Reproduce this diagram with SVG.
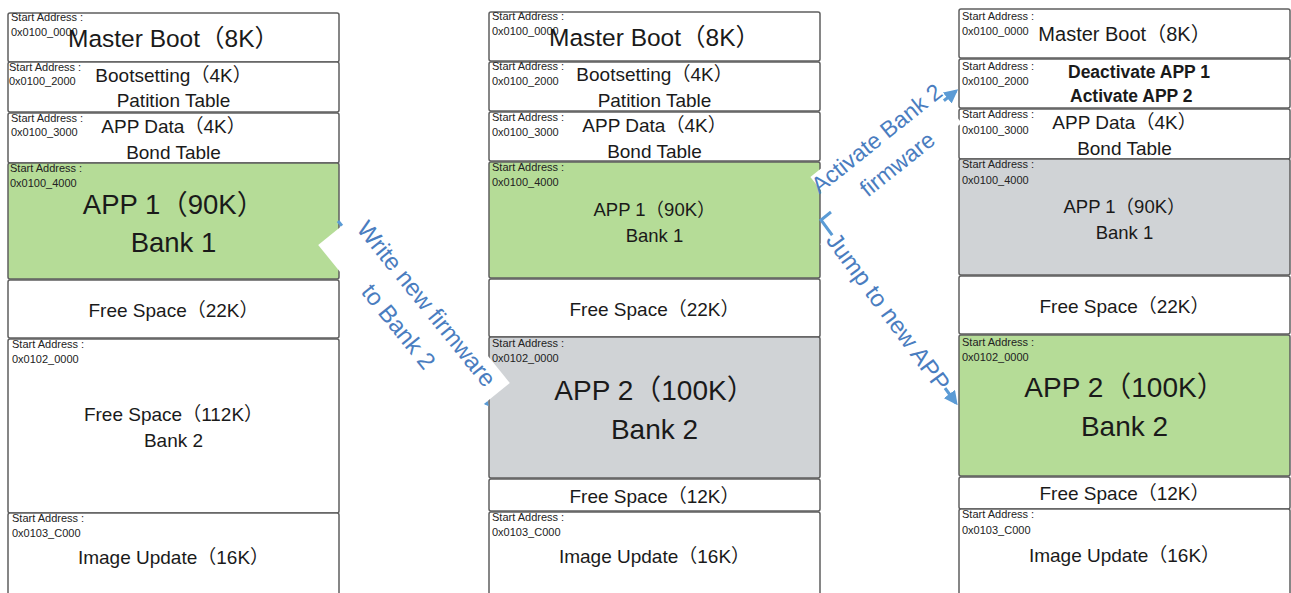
<svg xmlns="http://www.w3.org/2000/svg" width="1291" height="593" viewBox="0 0 1291 593">
<defs>
<style>
.blk{fill:#fff;stroke:#5f5f5f;stroke-width:1.5}
.green{fill:#b5dc97}
.gray{fill:#d0d3d6}
.sm{font-family:"Liberation Sans",Arial,sans-serif;font-size:11px;fill:#222}
.t{font-family:"Liberation Sans","Noto Sans CJK SC",sans-serif;fill:#1a1a1a;text-anchor:middle}
.s17{font-size:19px}
.s23{font-size:24.5px}
.s25{font-size:27.5px}
.s27{font-size:28px}
.m18{font-size:18.5px}
.b{font-weight:bold;font-size:17.5px;text-anchor:start}
.conn{fill:none;stroke:#5b9bd5;stroke-width:3}
.lbl{font-family:"Liberation Sans",Arial,sans-serif;font-size:24px;fill:#4a7dbf;text-anchor:middle}
.box{fill:#fff}
</style>
<marker id="ah" viewBox="0 0 10 10" refX="8" refY="5" markerWidth="14" markerHeight="14" markerUnits="userSpaceOnUse" orient="auto">
<path d="M0,0 L10,5 L0,10 z" fill="#5b9bd5"/>
</marker>
</defs>

<!-- Left column -->
<g id="L-master"><rect class="blk" x="8" y="13" width="331" height="49" rx="2"/>
<text class="sm" x="11" y="21">Start Address :</text><text class="sm" x="11" y="36">0x0100_0000</text>
<text class="t s23" x="173.5" y="47">Master Boot（8K）</text></g>
<g id="L-boot"><rect class="blk" x="8" y="62" width="331" height="50" rx="2"/>
<text class="sm" x="9" y="71">Start Address :</text><text class="sm" x="9" y="85">0x0100_2000</text>
<text class="t s17" x="173.5" y="82">Bootsetting（4K）</text><text class="t s17" x="173.5" y="107">Patition Table</text></g>
<g id="L-appdata"><rect class="blk" x="8" y="113" width="331" height="50" rx="2"/>
<text class="sm" x="11" y="122">Start Address :</text><text class="sm" x="11" y="136">0x0100_3000</text>
<text class="t s17" x="173.5" y="133">APP Data（4K）</text><text class="t s17" x="173.5" y="159">Bond Table</text></g>
<g id="L-app1"><rect class="blk green" x="8" y="163" width="331" height="116" rx="2"/>
<text class="sm" x="10" y="172">Start Address :</text><text class="sm" x="10" y="187">0x0100_4000</text>
<text class="t s25" x="173.5" y="214">APP 1（90K）</text><text class="t s25" x="173.5" y="252">Bank 1</text></g>
<g id="L-free22"><rect class="blk" x="8" y="280" width="331" height="58" rx="2"/>
<text class="t s17" x="173.5" y="317">Free Space（22K）</text></g>
<g id="L-free112"><rect class="blk" x="8" y="339" width="331" height="174" rx="2"/>
<text class="sm" x="12" y="348">Start Address :</text><text class="sm" x="12" y="363">0x0102_0000</text>
<text class="t s17" x="173.5" y="421">Free Space（112K）</text><text class="t s17" x="173.5" y="447">Bank 2</text></g>
<g id="L-image"><rect class="blk" x="8" y="513" width="331" height="90" rx="2"/>
<text class="sm" x="12" y="522">Start Address :</text><text class="sm" x="12" y="537">0x0103_C000</text>
<text class="t s17" x="173.5" y="564">Image Update（16K）</text></g>

<!-- Middle column -->
<g id="M-master"><rect class="blk" x="489" y="12" width="331" height="49" rx="2"/>
<text class="sm" x="492" y="20">Start Address :</text><text class="sm" x="492" y="35">0x0100_0000</text>
<text class="t s23" x="654.5" y="46">Master Boot（8K）</text></g>
<g id="M-boot"><rect class="blk" x="489" y="62" width="331" height="49" rx="2"/>
<text class="sm" x="492" y="70">Start Address :</text><text class="sm" x="492" y="85">0x0100_2000</text>
<text class="t s17" x="654.5" y="81">Bootsetting（4K）</text><text class="t s17" x="654.5" y="107">Patition Table</text></g>
<g id="M-appdata"><rect class="blk" x="489" y="112" width="331" height="49" rx="2"/>
<text class="sm" x="492" y="121">Start Address :</text><text class="sm" x="492" y="136">0x0100_3000</text>
<text class="t s17" x="654.5" y="132">APP Data（4K）</text><text class="t s17" x="654.5" y="158">Bond Table</text></g>
<g id="M-app1"><rect class="blk green" x="489" y="162" width="331" height="116" rx="2"/>
<text class="sm" x="492" y="171">Start Address :</text><text class="sm" x="492" y="186">0x0100_4000</text>
<text class="t m18" x="654.5" y="216">APP 1（90K）</text><text class="t m18" x="654.5" y="242">Bank 1</text></g>
<g id="M-free22"><rect class="blk" x="489" y="279" width="331" height="58" rx="2"/>
<text class="t s17" x="654.5" y="316">Free Space（22K）</text></g>
<g id="M-app2"><rect class="blk gray" x="489" y="337" width="331" height="141" rx="2"/>
<text class="sm" x="492" y="347">Start Address :</text><text class="sm" x="492" y="362">0x0102_0000</text>
<text class="t s27" x="654.5" y="400">APP 2（100K）</text><text class="t s27" x="654.5" y="439">Bank 2</text></g>
<g id="M-free12"><rect class="blk" x="489" y="479" width="331" height="32" rx="2"/>
<text class="t s17" x="654.5" y="503">Free Space（12K）</text></g>
<g id="M-image"><rect class="blk" x="489" y="512" width="331" height="90" rx="2"/>
<text class="sm" x="492" y="521">Start Address :</text><text class="sm" x="492" y="536">0x0103_C000</text>
<text class="t s17" x="654.5" y="563">Image Update（16K）</text></g>

<!-- Right column -->
<g id="R-master"><rect class="blk" x="959" y="9" width="331" height="49" rx="2"/>
<text class="sm" x="962" y="20">Start Address :</text><text class="sm" x="962" y="35">0x0100_0000</text>
<text class="t" style="font-size:20px" x="1124.5" y="41">Master Boot（8K）</text></g>
<g id="R-boot"><rect class="blk" x="959" y="59" width="331" height="49" rx="2"/>
<text class="sm" x="962" y="70">Start Address :</text><text class="sm" x="962" y="85">0x0100_2000</text>
<text class="t b" x="1068" y="78">Deactivate APP 1</text><text class="t b" x="1070" y="102">Activate APP 2</text></g>
<g id="R-appdata"><rect class="blk" x="959" y="109" width="331" height="50" rx="2"/>
<text class="sm" x="962" y="118">Start Address :</text><text class="sm" x="962" y="134">0x0100_3000</text>
<text class="t s17" x="1124.5" y="129">APP Data（4K）</text><text class="t s17" x="1124.5" y="155">Bond Table</text></g>
<g id="R-app1"><rect class="blk gray" x="959" y="159" width="331" height="116" rx="2"/>
<text class="sm" x="962" y="168">Start Address :</text><text class="sm" x="962" y="184">0x0100_4000</text>
<text class="t m18" x="1124.5" y="213">APP 1（90K）</text><text class="t m18" x="1124.5" y="239">Bank 1</text></g>
<g id="R-free22"><rect class="blk" x="959" y="276" width="331" height="58" rx="2"/>
<text class="t s17" x="1124.5" y="313">Free Space（22K）</text></g>
<g id="R-app2"><rect class="blk green" x="959" y="335" width="331" height="141" rx="2"/>
<text class="sm" x="962" y="346">Start Address :</text><text class="sm" x="962" y="361">0x0102_0000</text>
<text class="t s27" x="1124.5" y="397">APP 2（100K）</text><text class="t s27" x="1124.5" y="436">Bank 2</text></g>
<g id="R-free12"><rect class="blk" x="959" y="477" width="331" height="32" rx="2"/>
<text class="t s17" x="1124.5" y="500">Free Space（12K）</text></g>
<g id="R-image"><rect class="blk" x="959" y="509" width="331" height="90" rx="2"/>
<text class="sm" x="962" y="518">Start Address :</text><text class="sm" x="962" y="534">0x0103_C000</text>
<text class="t s17" x="1124.5" y="562">Image Update（16K）</text></g>

<!-- Connectors -->
<g id="connectors">
<path class="conn" d="M338,221 L487,404" marker-end="url(#ah)"/>
<g transform="translate(414,314) rotate(51)">
<rect class="box" x="-114" y="-31" width="228" height="62"/>
<text class="lbl" x="0" y="-8">Write new firmware</text>
<text class="lbl" x="0" y="28">to Bank 2</text>
</g>
<path class="conn" d="M826,195 L956,91" marker-end="url(#ah)"/>
<g transform="translate(886,150) rotate(-38.6)">
<rect class="box" x="-76" y="-26" width="152" height="52"/>
<text class="lbl" style="font-size:23px" x="0" y="-7">Activate Bank 2</text>
<text class="lbl" style="font-size:23px" x="0" y="26">firmware</text>
</g>
<path class="conn" d="M831,212 L821,220 L956,403" marker-end="url(#ah)"/>
<g transform="translate(888,312) rotate(53.5)">
<rect class="box" x="-95" y="-13" width="190" height="27"/>
<text class="lbl" x="0" y="8">Jump to new APP</text>
</g>
</g>
</svg>
